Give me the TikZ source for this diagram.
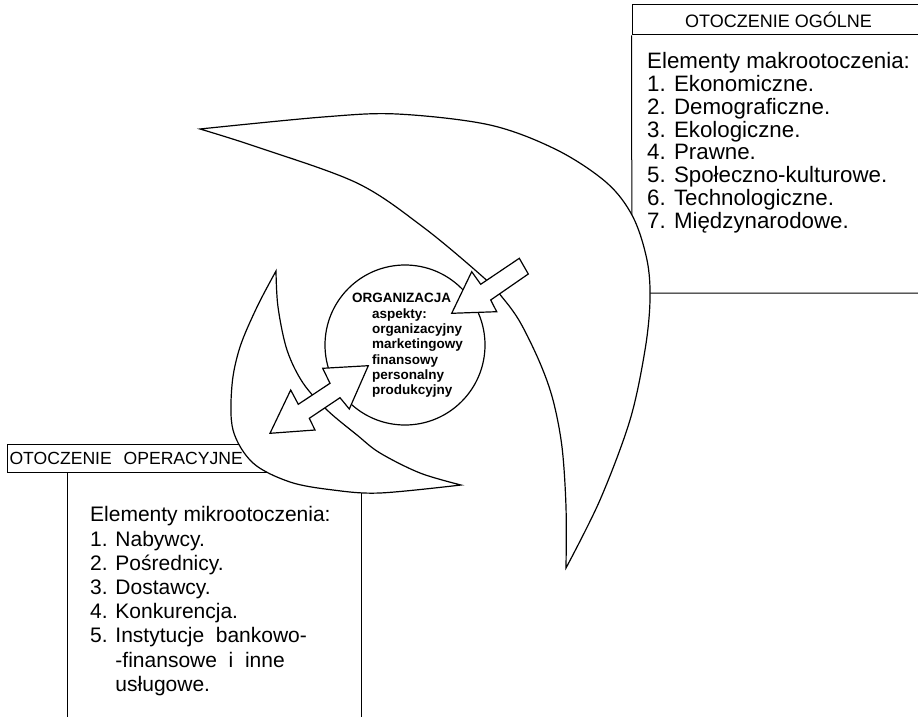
\documentclass[tikz,border=0pt]{standalone}
\usepackage{fontspec}
\setmainfont{Liberation Sans}
\usetikzlibrary{positioning}

\begin{document}
\begin{tikzpicture}[
    x=1pt, y=-1pt,
    every text node part/.style={align=left},
    frame/.style={draw=black, line width=1pt},
    titlebox/.style={frame, font=\fontsize{18}{20}\selectfont, minimum height=28pt, inner xsep=2pt},
    listtext/.style={inner sep=0pt, anchor=north west},
    blade/.style={draw=black, fill=white, line width=1.2pt},
    blockarrow/.style={draw=black, fill=white, line width=1.2pt, line join=miter},
    orgtext/.style={font=\bfseries\fontsize{13.5}{15.3}\selectfont, inner sep=0pt, anchor=north west}
]
\useasboundingbox (0,0) rectangle (918,717);

% ==================== OTOCZENIE OGOLNE ====================
\node[titlebox, minimum width=293pt, minimum height=30pt] (general_title) at (778.5,20) {OTOCZENIE OGÓLNE};
\draw[frame] (general_title.south west) -- (632,293) -- (930,293);
\node[listtext, font=\fontsize{22.3}{22.9}\selectfont] (general_list) at (647,52) {
    Elementy makrootoczenia:\\
    1. Ekonomiczne.\\
    2. Demograficzne.\\
    3. Ekologiczne.\\
    4. Prawne.\\
    5. Społeczno-kulturowe.\\
    6. Technologiczne.\\
    7. Międzynarodowe.
};

% ==================== OTOCZENIE OPERACYJNE ====================
\node[titlebox, font=\fontsize{17.6}{20}\selectfont, text width=265pt, anchor=west] (operational_title) at (7,458) {OTOCZENIE\ \ OPERACYJNE};
\draw[frame] (67,740) -- (67,472) -- (361,472) -- (361,740);
\node[listtext, font=\fontsize{21}{24.2}\selectfont] (operational_list) at (90,506.5) {
    Elementy mikrootoczenia:\\
    1. Nabywcy.\\
    2. Pośrednicy.\\
    3. Dostawcy.\\
    4. Konkurencja.\\
    5. Instytucje\ \ bankowo-\\
    \phantom{5. }-finansowe\ \ i\ \ inne\\
    \phantom{5. }usługowe.
};

% ==================== SWIRL BLADES ====================
\draw[blade] plot[smooth, tension=0.55] coordinates {(200,129) (323,117) (397,114) (490,125) (557,150) (607,183) (633,217) (647,260) (650,300) (645,350) (630,420) (600,500) (566,568)}
    -- plot[smooth, tension=0.55] coordinates {(566,568) (566,507) (562,447) (553,400) (540,363) (520,322) (502,297) (483,277) (423,227) (357,183) (257,147) (200,129)} -- cycle;
\draw[blade] plot[smooth, tension=0.55] coordinates {(276,271) (257,307) (240,347) (232,385) (233,430) (253,463) (290,482) (333,490) (380,493) (461,485)}
    -- plot[smooth, tension=0.55] coordinates {(461,485) (420,473) (380,453) (357,435) (327,410) (303,383) (287,350) (278,307) (276,271)} -- cycle;

% ==================== ORGANIZACJA ====================
\node[circle, draw=black, fill=white, line width=1.2pt, minimum size=160pt] (org) at (405,345) {};
\node[orgtext] (org_text) at (352,293.3) {
    ORGANIZACJA\\
    \hspace*{20pt}aspekty:\\
    \hspace*{20pt}organizacyjny\\
    \hspace*{20pt}marketingowy\\
    \hspace*{20pt}finansowy\\
    \hspace*{20pt}personalny\\
    \hspace*{20pt}produkcyjny
};

% ==================== BLOCK ARROWS ====================
\draw[blockarrow] (451.7,313.3) -- (471.7,271.7) -- (480.7,284.3) -- (519.3,258.3) -- (528.3,274) -- (490.7,300) -- (496.7,311.7) -- cycle;
\draw[blockarrow] (270,433.3) -- (290.7,390) -- (298.3,404.3) -- (330,383.3) -- (322.7,368.3) -- (368.3,365.7) -- (349.3,409) -- (340,397.7) -- (309.3,418.3) -- (315,430) -- cycle;

\end{tikzpicture}
\end{document}
